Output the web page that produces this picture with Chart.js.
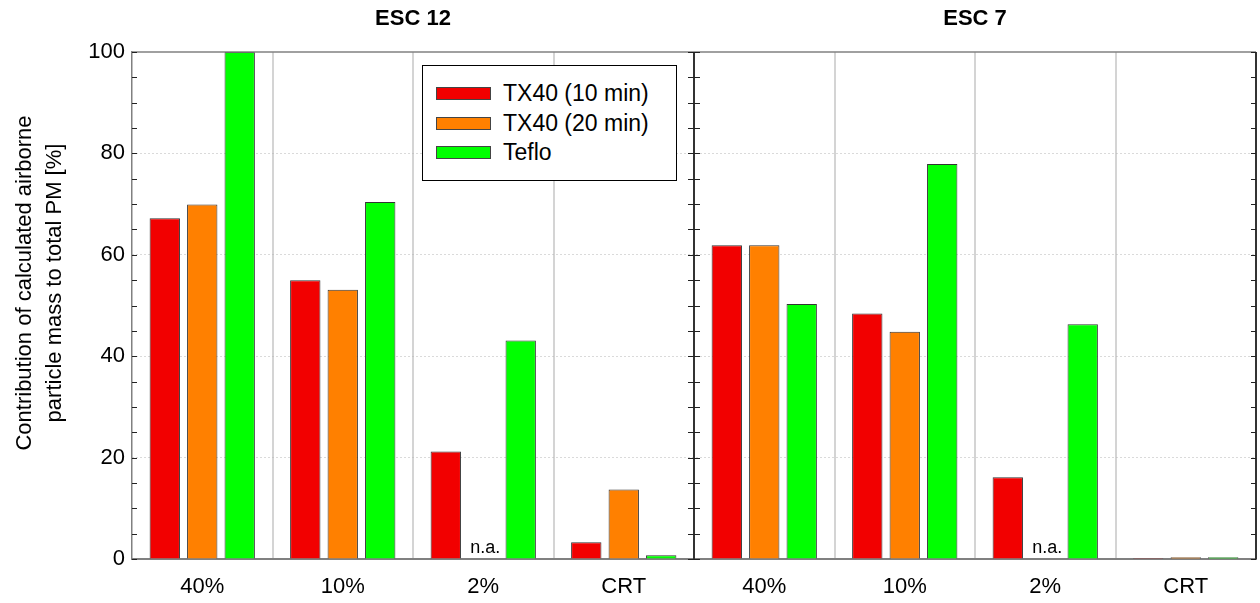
<!DOCTYPE html>
<html>
<head>
<meta charset="utf-8">
<script src="https://cdn.jsdelivr.net/npm/chart.js@4.4.1/dist/chart.umd.min.js"></script>
<style>
  body { margin: 0; background: #fff; }
  #wrap { position: relative; width: 1260px; height: 603px; }
  #legend {
    position: absolute; left: 422px; top: 65px; width: 255px; height: 116px;
    box-sizing: border-box; border: 1px solid #000; background: #fff;
    padding-top: 13px; font: 23px Arial, "Liberation Sans", sans-serif; color: #000;
  }
  .item { height: 29.5px; display: flex; align-items: center; white-space: nowrap; }
  .swatch { width: 53px; height: 11px; border: 1px solid #444; margin-left: 13px; margin-right: 12px; }
</style>
</head>
<body>
<div id="wrap">
  <canvas id="pm-chart" width="1260" height="603"></canvas>
  <div id="legend"></div>
</div>
<script>
const groups = ['ESC 12', 'ESC 7'];
const categories = ['40%', '10%', '2%', 'CRT'];
const seriesNames = ['TX40 (10 min)', 'TX40 (20 min)', 'Teflo'];
const seriesColors = ['rgb(242,0,0)', 'rgb(255,128,0)', 'rgb(0,255,0)'];
// ESC 12 first, then ESC 7; null = not analysed
const tx40_10min = [67.2, 55.0, 21.2, 3.3, 61.9, 48.4, 16.1, 0.2];
const tx40_20min = [69.9, 53.1, null, 13.7, 61.9, 44.8, null, 0.35];
const teflo = [100, 70.4, 43.1, 0.75, 50.3, 77.9, 46.3, 0.35];
const yTicks = [0, 20, 40, 60, 80, 100];
const minorStep = 5;
const yTitle = ['Contribution of calculated airborne', 'particle mass to total PM [%]'];
const naLabel = 'n.a.';

const FONT = 'Arial, "Liberation Sans", sans-serif';
Chart.defaults.font.family = FONT;
Chart.defaults.color = '#000';

const labels = groups.flatMap(() => categories);
const seriesData = [tx40_10min, tx40_20min, teflo];

// frame, inward ticks, panel titles, n.a. marks and the y title
const panelDecor = {
  id: 'panelDecor',
  afterDraw(chart) {
    const { ctx, chartArea: a, scales: { x, y } } = chart;
    const mid = (x.getPixelForValue(categories.length - 1) + x.getPixelForValue(categories.length)) / 2;
    const line = (x1, y1, x2, y2) => { ctx.beginPath(); ctx.moveTo(x1, y1); ctx.lineTo(x2, y2); ctx.stroke(); };
    ctx.save();

    ctx.strokeStyle = '#808080';
    ctx.lineWidth = 1.5;
    line(a.left, a.top, a.right, a.top);

    ctx.strokeStyle = '#333';
    ctx.lineWidth = 2;
    line(mid, a.top, mid, a.bottom);
    line(a.right, a.top, a.right, a.bottom);

    ctx.strokeStyle = '#222';
    ctx.lineWidth = 1;
    for (let v = yTicks[0]; v <= yTicks[yTicks.length - 1]; v += minorStep) {
      const py = Math.round(y.getPixelForValue(v)) + 0.5;
      line(a.left, py, a.left + 5, py);
      line(mid - 6, py, mid + 6, py);
      line(a.right - 5, py, a.right, py);
    }

    ctx.fillStyle = '#000';
    ctx.textAlign = 'center';
    ctx.textBaseline = 'middle';
    ctx.font = 'bold 22px ' + FONT;
    ctx.fillText(groups[0], (a.left + mid) / 2, 19);
    ctx.fillText(groups[1], (mid + a.right) / 2, 19);

    ctx.font = '18px ' + FONT;
    ctx.textBaseline = 'alphabetic';
    chart.data.datasets.forEach((ds, di) => {
      const meta = chart.getDatasetMeta(di);
      ds.data.forEach((v, i) => {
        if (v === null) ctx.fillText(naLabel, meta.data[i].x + 2, y.getPixelForValue(0) - 6);
      });
    });

    ctx.font = '22px ' + FONT;
    ctx.translate(38, 283);
    ctx.rotate(-Math.PI / 2);
    ctx.fillText(yTitle[0], 0, -7);
    ctx.fillText(yTitle[1], 0, 23);
    ctx.restore();
  }
};

const chart = new Chart(document.getElementById('pm-chart'), {
  type: 'bar',
  data: {
    labels: labels,
    datasets: seriesNames.map((name, i) => ({
      label: name,
      data: seriesData[i],
      backgroundColor: seriesColors[i],
      borderColor: '#333',
      borderWidth: 1,
      categoryPercentage: 0.8,
      barPercentage: 0.81
    }))
  },
  options: {
    responsive: false,
    devicePixelRatio: 1,
    animation: false,
    layout: { padding: { top: 52, right: 4, left: 0, bottom: 0 } },
    plugins: {
      legend: { display: false },
      title: { display: false },
      tooltip: { enabled: false }
    },
    scales: {
      x: {
        afterFit: s => { s.height = 44; },
        grid: {
          offset: true,
          drawTicks: false,
          lineWidth: 2,
          color: c => (c.index % categories.length === 0 ? 'rgba(0,0,0,0)' : '#d4d4d4')
        },
        border: { display: true, color: '#808080', width: 2 },
        ticks: { font: { size: 22 }, padding: 15, autoSkip: false, maxRotation: 0 }
      },
      y: {
        min: 0,
        max: 100,
        afterFit: s => { s.width = 132; },
        afterBuildTicks: s => { s.ticks = yTicks.map(v => ({ value: v })); },
        grid: {
          drawTicks: false,
          lineWidth: 1,
          color: c => (c.tick && c.tick.value > 0 && c.tick.value < 100 ? '#b4b4b4' : 'rgba(0,0,0,0)')
        },
        border: { display: true, color: '#808080', width: 1.5, dash: [1, 3] },
        ticks: { font: { size: 22 }, padding: 7 }
      }
    }
  },
  plugins: [panelDecor]
});

// legend box inside the ESC 12 panel
const legendEl = document.getElementById('legend');
seriesNames.forEach((name, i) => {
  const item = document.createElement('div');
  item.className = 'item';
  const sw = document.createElement('span');
  sw.className = 'swatch';
  sw.style.background = seriesColors[i];
  item.appendChild(sw);
  item.appendChild(document.createTextNode(name));
  legendEl.appendChild(item);
});
</script>
</body>
</html>
